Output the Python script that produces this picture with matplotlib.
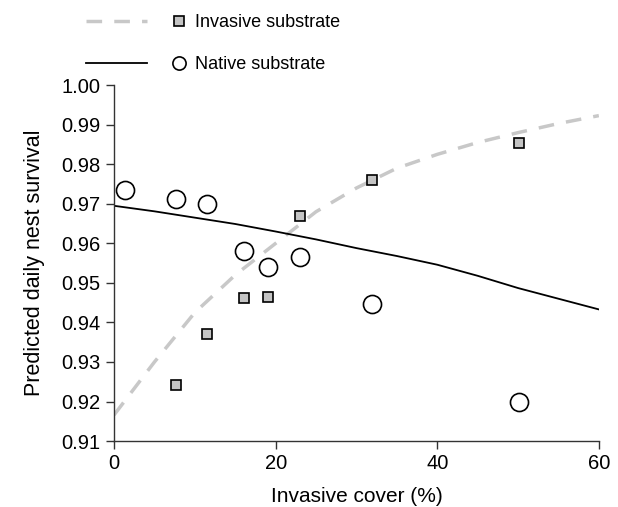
import matplotlib
matplotlib.use("Agg")
import matplotlib.pyplot as plt
from matplotlib.lines import Line2D
from matplotlib.legend_handler import HandlerTuple

plt.rcParams["font.family"] = ["Liberation Sans", "DejaVu Sans"]

# observed survival per invasive cover class
cover = [7.7, 11.5, 16.1, 19.1, 23.0, 31.9, 50.1]
invasive_obs = [0.9242, 0.9372, 0.9461, 0.9465, 0.9670, 0.9759, 0.9854]
native_cover = [1.3, 7.7, 11.5, 16.1, 19.1, 23.0, 31.9, 50.1]
native_obs = [0.9734, 0.9713, 0.9699, 0.9580, 0.9540, 0.9565, 0.9446, 0.9198]

# model predictions
curve_x = [0, 5, 10, 15, 20, 25, 30, 35, 40, 45, 50, 55, 60]
invasive_pred = [0.9166, 0.9300, 0.9425, 0.9520, 0.9600, 0.9680, 0.9740,
                 0.9790, 0.9825, 0.9855, 0.9880, 0.9903, 0.9923]
native_pred = [0.9695, 0.9681, 0.9665, 0.9649, 0.9630, 0.9610, 0.9588,
               0.9568, 0.9546, 0.9518, 0.9487, 0.9460, 0.9433]

y_ticks = [0.91, 0.92, 0.93, 0.94, 0.95, 0.96, 0.97, 0.98, 0.99, 1.00]
x_ticks = [0, 20, 40, 60]

fig = plt.figure(figsize=(6.18, 5.07), dpi=100)
ax = fig.add_axes([0.1845, 0.130, 0.7845, 0.702])

inv_line, = ax.plot(curve_x, invasive_pred, color="#c8c8c8", lw=2.5,
                    dashes=(4.5, 3.5), zorder=1)
nat_line, = ax.plot(curve_x, native_pred, color="black", lw=1.3, zorder=2)
ax.plot(cover, invasive_obs, ls="none", marker="s", ms=7.2,
        mfc="#c4c4c4", mec="black", mew=1.2, zorder=3)
ax.plot(native_cover, native_obs, ls="none", marker="o", ms=13,
        mfc="white", mec="black", mew=1.2, zorder=3)

ax.set_xlim(0, 60)
ax.set_ylim(0.91, 1.00)
ax.set_xticks(x_ticks)
ax.set_yticks(y_ticks)
ax.set_yticklabels([f"{v:.2f}" for v in y_ticks])
for s in ["top", "right"]:
    ax.spines[s].set_visible(False)
for s in ["left", "bottom"]:
    ax.spines[s].set_color("#333333")
    ax.spines[s].set_linewidth(1.0)
ax.tick_params(direction="out", length=6, width=1, color="#333333",
               labelsize=14.5, pad=3.5)
ax.set_xlabel("Invasive cover (%)", fontsize=15, labelpad=10)
ax.set_ylabel("Predicted daily nest survival", fontsize=15.5, labelpad=12)

# legend: line sample, then a small marker, then label
sq_key = Line2D([], [], ls="none", marker="s", ms=6.8, mfc="#c4c4c4",
                mec="black", mew=1.2)
circ_key = Line2D([], [], ls="none", marker="o", ms=9.5, mfc="white",
                  mec="black", mew=1.2)
fig.legend([(inv_line, sq_key), (nat_line, circ_key)],
           ["Invasive substrate", "Native substrate"],
           handler_map={tuple: HandlerTuple(ndivide=None, pad=0.11)},
           loc="upper left", bbox_to_anchor=(86 / 618, 1 - 14 / 507),
           frameon=False, fontsize=13, handlelength=6.85,
           handletextpad=-0.8, labelspacing=1.4, borderpad=0,
           borderaxespad=0)

plt.savefig("out.png", dpi=100)
